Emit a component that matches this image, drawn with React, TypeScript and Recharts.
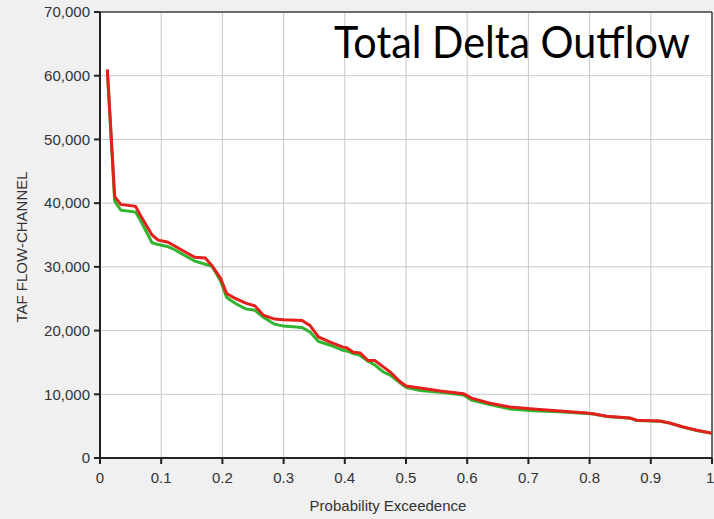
import {
  LineChart,
  Line,
  XAxis,
  YAxis,
  CartesianGrid,
  ReferenceLine,
} from "recharts";

// probability of exceedence (x) shared by both runs
const probs = [
  0.012, 0.024, 0.034, 0.058, 0.066, 0.085, 0.095, 0.11, 0.12, 0.14, 0.155,
  0.172, 0.183, 0.197, 0.207, 0.222, 0.238, 0.253, 0.267, 0.285, 0.3, 0.33,
  0.343, 0.357, 0.376, 0.397, 0.403, 0.414, 0.425, 0.438, 0.449, 0.463,
  0.474, 0.49, 0.5, 0.523, 0.556, 0.594, 0.607, 0.637, 0.67, 0.708, 0.757,
  0.795, 0.806, 0.828, 0.866, 0.877, 0.915, 0.931, 0.953, 0.975, 1.0,
];

// red run (TAF)
const redFlow = [
  61000, 41000, 39800, 39500, 38100, 35000, 34200, 33900, 33400, 32300, 31500,
  31400, 30200, 28200, 25800, 25000, 24300, 23900, 22400, 21800, 21700, 21600,
  20800, 19000, 18200, 17400, 17300, 16600, 16500, 15300, 15300, 14300,
  13500, 12000, 11300, 11000, 10500, 10100, 9400, 8600, 8000, 7700, 7350,
  7050, 6950, 6550, 6280, 5920, 5810, 5500, 4870, 4350, 3900,
];

// green run (TAF)
const greenFlow = [
  60700, 40300, 38900, 38600, 37300, 33800, 33500, 33200, 32800, 31700, 30900,
  30400, 30100, 27800, 25200, 24200, 23400, 23200, 22100, 21000, 20700, 20500,
  19800, 18300, 17700, 16900, 16800, 16400, 16100, 15200, 14600, 13500,
  13000, 11800, 11100, 10600, 10300, 9900, 9100, 8400, 7700, 7400, 7200,
  7000, 6900, 6500, 6250, 5900, 5780, 5480, 4850, 4330, 3880,
];

const xTicks = [0, 0.1, 0.2, 0.3, 0.4, 0.5, 0.6, 0.7, 0.8, 0.9, 1];
const yTicks = [0, 10000, 20000, 30000, 40000, 50000, 60000, 70000];

const rows = probs.map((p, i) => ({ p, red: redFlow[i], green: greenFlow[i] }));

const tickStyle = { fontSize: 15, fontFamily: "Liberation Sans", fill: "#333" };
const labelFont = "'Liberation Sans', Arial, sans-serif";

export default function App() {
  return (
    <div
      style={{
        position: "absolute",
        left: 0,
        top: 0,
        width: 714,
        height: 519,
        background: "#f0f0f0",
      }}
    >
      <LineChart
        width={714}
        height={519}
        data={rows}
        margin={{ top: 12, right: 2, left: 0, bottom: 0 }}
      >
        <CartesianGrid stroke="#c8c8c8" fill="#fff" />
        <XAxis
          dataKey="p"
          type="number"
          domain={[0, 1]}
          ticks={xTicks}
          tickFormatter={(v: number) => String(Math.round(v * 10) / 10)}
          height={61}
          tickSize={6}
          tickMargin={8}
          tick={tickStyle}
          stroke="#222"
          strokeWidth={2}
        />
        <YAxis
          type="number"
          domain={[0, 70000]}
          ticks={yTicks}
          tickFormatter={(v: number) => v.toLocaleString("en-US")}
          width={100}
          tickSize={6}
          tickMargin={4}
          tick={tickStyle}
          stroke="#222"
          strokeWidth={2}
        />
        <ReferenceLine y={70000} stroke="#444" strokeWidth={1.5} />
        <ReferenceLine x={1} stroke="#444" strokeWidth={1.5} />
        <Line
          dataKey="green"
          stroke="#2fb52f"
          strokeWidth={3}
          dot={false}
          isAnimationActive={false}
        />
        <Line
          dataKey="red"
          stroke="#e3201b"
          strokeWidth={3}
          dot={false}
          isAnimationActive={false}
        />
      </LineChart>
      <svg
        width={714}
        height={519}
        style={{ position: "absolute", left: 0, top: 0, pointerEvents: "none" }}
      >
        <text
          x={334}
          y={58}
          fontSize={44}
          fontFamily="Lato, 'Open Sans', sans-serif"
          fill="#000"
          textLength={356}
          lengthAdjust="spacingAndGlyphs"
        >
          Total Delta Outflow
        </text>
        <text
          x={388}
          y={511}
          textAnchor="middle"
          fontSize={15}
          fontFamily={labelFont}
          fill="#333"
        >
          Probability Exceedence
        </text>
        <text
          x={27}
          y={247}
          textAnchor="middle"
          fontSize={15}
          fontFamily={labelFont}
          fill="#333"
          transform="rotate(-90 27 247)"
        >
          TAF FLOW-CHANNEL
        </text>
      </svg>
    </div>
  );
}
